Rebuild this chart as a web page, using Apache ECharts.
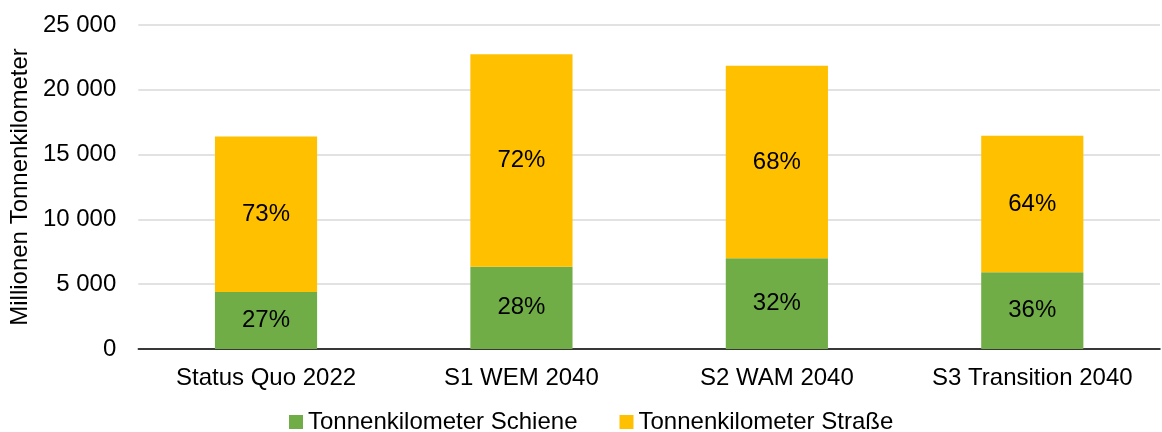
<!DOCTYPE html>
<html>
<head>
<meta charset="utf-8">
<script src="https://cdn.jsdelivr.net/npm/echarts@6/dist/echarts.min.js"></script>
<style>
  html, body { margin: 0; padding: 0; background: #fff; }
  #chart { width: 1162px; height: 432px; }
</style>
</head>
<body>
<div id="chart"></div>
<script>
// data
var categories = ['Status Quo 2022', 'S1 WEM 2040', 'S2 WAM 2040', 'S3 Transition 2040'];
var schiene = [4400, 6350, 7000, 5930];
var strasse = [12000, 16400, 14850, 10520];
var yTicks = [0, 5000, 10000, 15000, 20000, 25000];

var totals = schiene.map(function (v, i) { return v + strasse[i]; });

function pct(arr) {
    return function (p) {
        return Math.round(arr[p.dataIndex] / totals[p.dataIndex] * 100) + '%';
    };
}

function fmt(v) {
    return String(v).replace(/\B(?=(\d{3})+(?!\d))/g, ' ');
}

var chart = echarts.init(document.getElementById('chart'));
var font = 'Liberation Sans, Arial, sans-serif';

var option = {
    animation: false,
    textStyle: { fontFamily: font },
    legend: {
        bottom: -7,
        left: 284,
        itemWidth: 14,
        itemHeight: 14,
        itemGap: 42,
        icon: 'rect',
        textStyle: { fontSize: 24, color: '#000', fontFamily: font },
        data: ['Tonnenkilometer Schiene', 'Tonnenkilometer Straße']
    },
    grid: { left: 135, right: 2, top: 25, bottom: 83 },
    xAxis: {
        type: 'category',
        data: categories,
        axisTick: { show: false },
        axisLine: { lineStyle: { color: '#000', width: 1.5 } },
        axisLabel: { color: '#000', fontSize: 24, margin: 17, interval: 0, fontFamily: font }
    },
    yAxis: {
        type: 'value',
        min: yTicks[0],
        max: yTicks[yTicks.length - 1],
        interval: 5000,
        name: 'Millionen Tonnenkilometer',
        nameLocation: 'middle',
        nameGap: 103,
        nameTextStyle: { fontSize: 24, color: '#000', fontFamily: font },
        axisLine: { show: false },
        axisTick: { show: false },
        splitLine: { lineStyle: { color: '#d9d9d9', width: 1.5 } },
        axisLabel: {
            color: '#000', fontSize: 24, margin: 22, fontFamily: font,
            formatter: fmt
        }
    },
    series: [{
        name: 'Tonnenkilometer Schiene',
        type: 'bar',
        stack: 'total',
        barWidth: '40%',
        itemStyle: { color: '#70ad47' },
        label: {
            show: true, position: 'inside', color: '#000', fontSize: 24, fontFamily: font,
            formatter: pct(schiene)
        },
        data: schiene
    }, {
        name: 'Tonnenkilometer Straße',
        type: 'bar',
        stack: 'total',
        barWidth: '40%',
        itemStyle: { color: '#ffc000' },
        label: {
            show: true, position: 'inside', color: '#000', fontSize: 24, fontFamily: font,
            formatter: pct(strasse)
        },
        data: strasse
    }]
};

chart.setOption(option);
</script>
</body>
</html>
